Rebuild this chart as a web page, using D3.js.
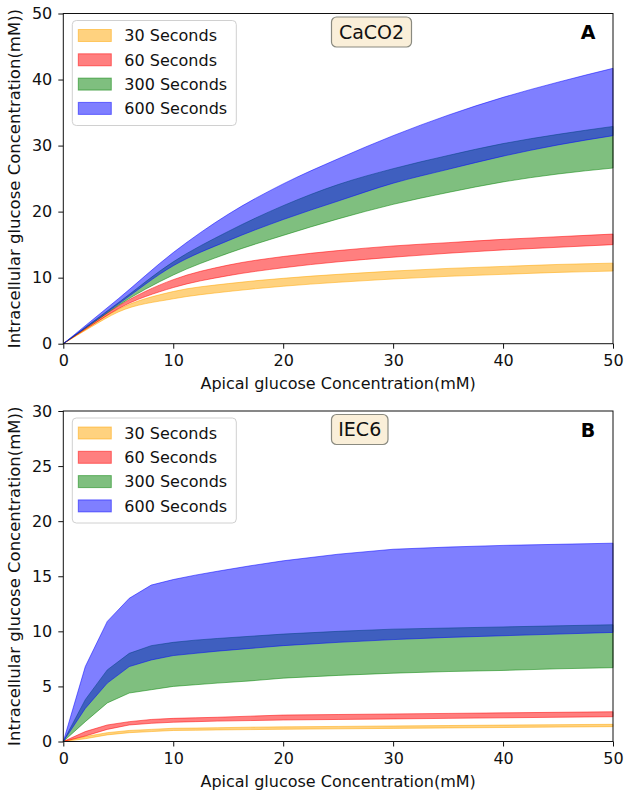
<!DOCTYPE html>
<html>
<head>
<meta charset="utf-8">
<script src="https://cdn.jsdelivr.net/npm/d3@7"></script>
<style>
  html, body { margin: 0; padding: 0; background: #fff; }
  svg { display: block; font-family: "DejaVu Sans", sans-serif; }
</style>
</head>
<body>
<svg id="chart" width="630" height="801"></svg>
<script>
// ---------- DATA ----------
const seriesLabels = ["30 Seconds", "60 Seconds", "300 Seconds", "600 Seconds"];
const seriesColors = ["#ffa500", "#ff0000", "#008000", "#0000ff"];

// Panel A: CaCO2
const xCaco2 = [0, 2.5, 5, 10, 15, 20, 25, 30, 35, 40, 45, 50];
const caco2Low30  = [0, 2.5, 4.8, 6.8, 7.9, 8.7, 9.3, 9.8, 10.2, 10.5, 10.8, 11.0];
const caco2High30 = [0, 2.7, 5.2, 7.9, 9.1, 9.9, 10.5, 11.0, 11.4, 11.7, 12.0, 12.2];
const caco2Low60  = [0, 2.7, 5.3, 8.5, 10.3, 11.5, 12.4, 13.1, 13.7, 14.2, 14.6, 15.0];
const caco2High60 = [0, 2.9, 5.7, 9.7, 11.9, 13.2, 14.1, 14.8, 15.3, 15.8, 16.2, 16.6];
const caco2Low300  = [0, 2.9, 5.8, 10.4, 13.7, 16.4, 18.9, 21.1, 22.9, 24.5, 25.7, 26.6];
const caco2High300 = [0, 3.1, 6.2, 12.4, 17.0, 20.9, 24.1, 26.5, 28.5, 30.3, 31.7, 32.9];
const caco2Low600  = [0, 3.0, 6.0, 11.8, 15.6, 18.8, 21.6, 24.3, 26.4, 28.4, 30.1, 31.5];
const caco2High600 = [0, 3.4, 6.8, 13.8, 19.6, 24.2, 28.0, 31.5, 34.6, 37.3, 39.6, 41.7];

// Panel B: IEC6
const xIec6 = [0, 2, 4, 6, 8, 10, 12, 14, 17, 20, 25, 30, 35, 40, 45, 50];
const iec6Low30  = [0, 0.25, 0.6, 0.8, 0.9, 1.0, 1.02, 1.05, 1.08, 1.11, 1.15, 1.19, 1.23, 1.27, 1.31, 1.35];
const iec6High30 = [0, 0.45, 0.8, 1.0, 1.1, 1.2, 1.22, 1.25, 1.3, 1.33, 1.37, 1.41, 1.45, 1.49, 1.53, 1.56];
const iec6Low60  = [0, 0.5, 1.1, 1.5, 1.65, 1.75, 1.8, 1.85, 1.9, 1.95, 2.0, 2.05, 2.1, 2.15, 2.2, 2.25];
const iec6High60 = [0, 0.9, 1.5, 1.8, 2.0, 2.1, 2.15, 2.2, 2.3, 2.4, 2.45, 2.5, 2.55, 2.6, 2.65, 2.7];
const iec6Low300  = [0, 1.8, 3.5, 4.4, 4.7, 5.0, 5.15, 5.3, 5.5, 5.75, 6.0, 6.2, 6.35, 6.45, 6.6, 6.7];
const iec6High300 = [0, 3.8, 6.5, 8.0, 8.7, 9.0, 9.2, 9.35, 9.55, 9.75, 10.0, 10.2, 10.3, 10.4, 10.5, 10.6];
const iec6Low600  = [0, 3.0, 5.3, 6.8, 7.4, 7.8, 8.0, 8.2, 8.45, 8.7, 9.0, 9.25, 9.45, 9.6, 9.75, 9.9];
const iec6High600 = [0, 6.8, 10.9, 13.0, 14.2, 14.7, 15.1, 15.45, 15.95, 16.4, 17.0, 17.45, 17.65, 17.8, 17.9, 18.0];

// Tick labels
const xTicks = [0, 10, 20, 30, 40, 50];
const yTicksA = [0, 10, 20, 30, 40, 50];
const yTicksB = [0, 5, 10, 15, 20, 25, 30];

const xLabel = "Apical glucose Concentration(mM)";
const yLabel = "Intracellular glucose Concentration(mM))";

// ---------- DRAW ----------
const svg = d3.select("#chart");

function panel(cfg) {
  const { top, bottom, left, right, yMax, yTicks, xs, lows, highs, curve, title, letter, titleW } = cfg;
  const x = d3.scaleLinear().domain([0, 50]).range([left, right]);
  const y = d3.scaleLinear().domain([0, yMax]).range([bottom, top]);
  const g = svg.append("g");

  // bands
  lows.forEach((lo, i) => {
    const pts = xs.map((xv, j) => ({ x: xv, lo: lo[j], hi: highs[i][j] }));
    const area = d3.area().x(d => x(d.x)).y0(d => y(d.lo)).y1(d => y(d.hi)).curve(curve);
    g.append("path").datum(pts).attr("d", area)
      .attr("fill", seriesColors[i]).attr("fill-opacity", 0.5)
      .attr("stroke", seriesColors[i]).attr("stroke-opacity", 0.5).attr("stroke-width", 1);
  });

  // axes
  const ax = g.append("g").attr("transform", `translate(0,${bottom})`)
    .call(d3.axisBottom(x).tickValues(xTicks).tickSize(5).tickPadding(6).tickSizeOuter(0));
  const ay = g.append("g").attr("transform", `translate(${left},0)`)
    .call(d3.axisLeft(y).tickValues(yTicks).tickSize(5).tickPadding(6).tickSizeOuter(0));
  [ax, ay].forEach(a => {
    a.select(".domain").remove();
    a.selectAll("text").attr("font-size", 16).attr("fill", "#111").attr("font-family", "DejaVu Sans");
    a.selectAll("line").attr("stroke", "#111");
  });

  // frame
  g.append("rect").attr("x", left).attr("y", top).attr("width", right - left).attr("height", bottom - top)
    .attr("fill", "none").attr("stroke", "#111").attr("stroke-width", 1);

  // axis labels
  g.append("text").attr("x", (left + right) / 2).attr("y", bottom + 45)
    .attr("text-anchor", "middle").attr("font-size", 16).attr("fill", "#111").text(xLabel);
  g.append("text").attr("transform", `translate(20,${(top + bottom) / 2}) rotate(-90)`)
    .attr("text-anchor", "middle").attr("font-size", 16.5).attr("fill", "#111").text(yLabel);

  // legend
  const lx = left + 9, ly = top + 7;
  g.append("rect").attr("x", lx).attr("y", ly).attr("width", 164).attr("height", 105).attr("rx", 4)
    .attr("fill", "#fff").attr("fill-opacity", 0.8).attr("stroke", "#d0d0d0");
  seriesLabels.forEach((lab, i) => {
    const cy = ly + 15 + i * 24.3;
    g.append("rect").attr("x", lx + 6).attr("y", cy - 6).attr("width", 33).attr("height", 12)
      .attr("fill", seriesColors[i]).attr("fill-opacity", 0.5)
      .attr("stroke", seriesColors[i]).attr("stroke-opacity", 0.5);
    g.append("text").attr("x", lx + 52).attr("y", cy).attr("dy", "0.36em")
      .attr("font-size", 16).attr("fill", "#111").text(lab);
  });

  // title box
  const tx = 331.5, ty = top + 3.5;
  g.append("rect").attr("x", tx).attr("y", ty).attr("width", titleW).attr("height", 30).attr("rx", 5)
    .attr("fill", "#faefd9").attr("stroke", "#8a8a80").attr("stroke-width", 1.2);
  g.append("text").attr("x", tx + titleW / 2).attr("y", ty + 15).attr("dy", "0.36em")
    .attr("text-anchor", "middle").attr("font-size", 19).attr("fill", "#111").text(title);

  // panel letter
  g.append("text").attr("x", 588).attr("y", top + 19).attr("dy", "0.36em")
    .attr("text-anchor", "middle").attr("font-size", 19).attr("font-weight", "bold")
    .attr("font-family", "DejaVu Sans, sans-serif").attr("fill", "#000").text(letter);
}

panel({
  top: 13.5, bottom: 343.7, left: 63.3, right: 613, yMax: 50, yTicks: yTicksA,
  xs: xCaco2,
  lows: [caco2Low30, caco2Low60, caco2Low300, caco2Low600],
  highs: [caco2High30, caco2High60, caco2High300, caco2High600],
  curve: d3.curveMonotoneX, title: "CaCO2", letter: "A", titleW: 80
});

panel({
  top: 411, bottom: 741.5, left: 63.3, right: 613, yMax: 30, yTicks: yTicksB,
  xs: xIec6,
  lows: [iec6Low30, iec6Low60, iec6Low300, iec6Low600],
  highs: [iec6High30, iec6High60, iec6High300, iec6High600],
  curve: d3.curveLinear, title: "IEC6", letter: "B", titleW: 56.5
});
</script>
</body>
</html>
